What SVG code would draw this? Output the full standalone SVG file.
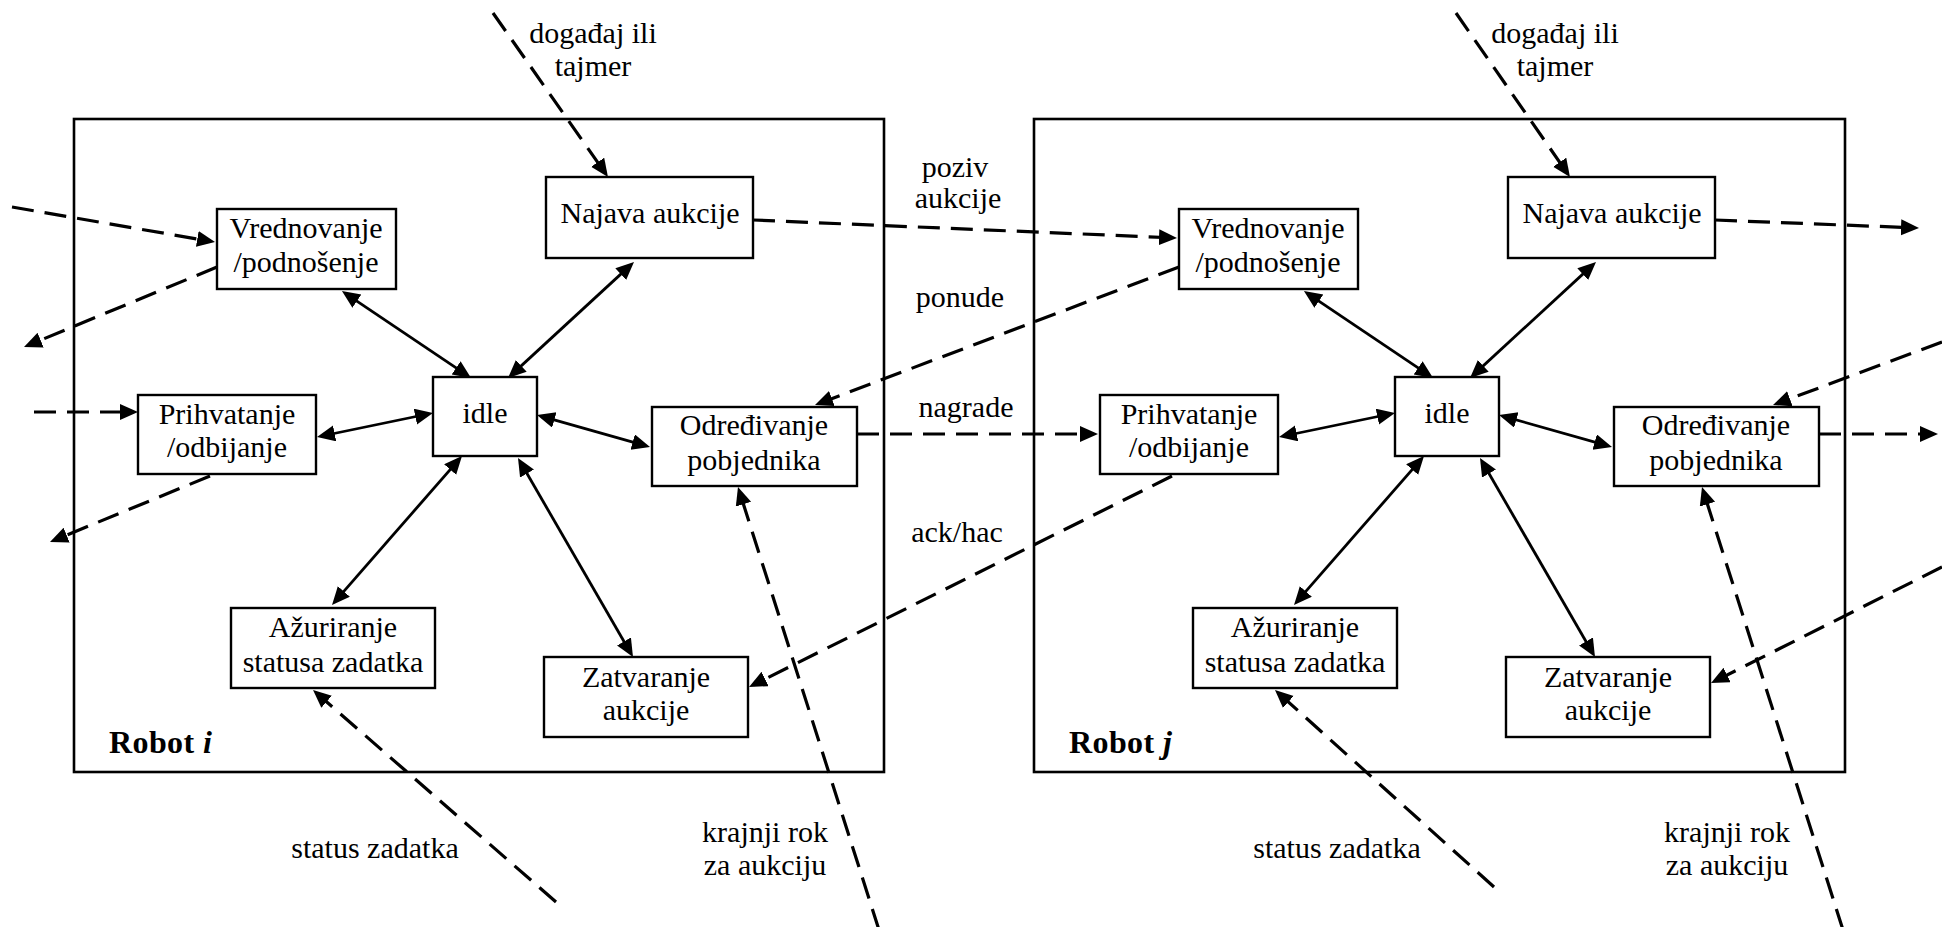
<svg xmlns="http://www.w3.org/2000/svg" width="1942" height="927" viewBox="0 0 1942 927">
  <defs>
    <style>
      text { font-family: "Liberation Serif", "Times New Roman", serif; font-size: 30px; fill: #000; }
      .c { text-anchor: middle; }
      .frame { fill: none; stroke: #000; stroke-width: 2.6; }
      .node rect { fill: #fff; stroke: #000; stroke-width: 2.4; }
      .solid { fill: none; stroke: #000; stroke-width: 2.8; marker-start: url(#head); marker-end: url(#head); }
      .dash { fill: none; stroke: #000; stroke-width: 3.2; stroke-dasharray: 22 11; marker-end: url(#head); }
      .robot { font-weight: bold; font-size: 32px; letter-spacing: 0.4px; }
    </style>
    <marker id="head" markerUnits="userSpaceOnUse" markerWidth="20" markerHeight="18" refX="13" refY="8" orient="auto-start-reverse" viewBox="0 0 20 18">
      <path d="M0,0 L18,8 L0,16 z" fill="#000" stroke="none"/>
    </marker>
  </defs>

  <rect width="1942" height="927" fill="#fff"/>

  <!-- robot frames -->
  <rect id="frame-i" class="frame" x="74" y="119" width="810" height="653"/>
  <rect id="frame-j" class="frame" x="1034" y="119" width="811" height="653"/>
  <text class="robot" x="109" y="753">Robot <tspan font-style="italic">i</tspan></text>
  <text class="robot" x="1069" y="753">Robot <tspan font-style="italic">j</tspan></text>

  <!-- connectors -->
  <g id="connectors">
    <!-- state transitions inside robot i -->
    <g id="transitions-i">
      <line class="solid" x1="346.1" y1="293.8" x2="466.9" y2="375.2"/>
      <line class="solid" x1="630.3" y1="265.4" x2="511.7" y2="374.6"/>
      <line class="solid" x1="321.9" y1="436" x2="428.1" y2="414"/>
      <line class="solid" x1="541.8" y1="416.4" x2="645.2" y2="445.6"/>
      <line class="solid" x1="458.7" y1="459.8" x2="335.3" y2="601.2"/>
      <line class="solid" x1="520.5" y1="462.3" x2="630.5" y2="652.7"/>
    </g>
    <!-- state transitions inside robot j -->
    <g id="transitions-j" transform="translate(962,0)">
      <line class="solid" x1="346.1" y1="293.8" x2="466.9" y2="375.2"/>
      <line class="solid" x1="630.3" y1="265.4" x2="511.7" y2="374.6"/>
      <line class="solid" x1="321.9" y1="436" x2="428.1" y2="414"/>
      <line class="solid" x1="541.8" y1="416.4" x2="645.2" y2="445.6"/>
      <line class="solid" x1="458.7" y1="459.8" x2="335.3" y2="601.2"/>
      <line class="solid" x1="520.5" y1="462.3" x2="630.5" y2="652.7"/>
    </g>
    <!-- messages and events -->
    <g id="messages">
      <line class="dash" x1="493" y1="13" x2="605.1" y2="172.9"/>
      <line class="dash" x1="1456" y1="13" x2="1567.1" y2="172.9"/>
      <line class="dash" x1="753" y1="220" x2="1172" y2="237.8"/>
      <line class="dash" x1="1715" y1="220" x2="1914" y2="227.8"/>
      <line class="dash" x1="12" y1="207" x2="210.1" y2="241.2"/>
      <line class="dash" x1="217" y1="267" x2="28.6" y2="345.1"/>
      <line class="dash" x1="1179" y1="267" x2="819.7" y2="403.2"/>
      <line class="dash" x1="1942" y1="342" x2="1777.7" y2="403.3"/>
      <line class="dash" x1="34" y1="412" x2="133" y2="412"/>
      <line class="dash" x1="210" y1="476" x2="54.6" y2="540.1"/>
      <line class="dash" x1="1172" y1="476" x2="753.5" y2="684.8"/>
      <line class="dash" x1="1942" y1="567" x2="1715.5" y2="680.8"/>
      <line class="dash" x1="857" y1="434" x2="1093" y2="434"/>
      <line class="dash" x1="1819" y1="434" x2="1933" y2="434"/>
      <line class="dash" x1="556" y1="902" x2="316.8" y2="693.3"/>
      <line class="dash" x1="1494" y1="887" x2="1278.7" y2="693.3"/>
      <line class="dash" x1="879" y1="930" x2="739.5" y2="491.8"/>
      <line class="dash" x1="1843" y1="930" x2="1703.5" y2="491.8"/>
    </g>
  </g>

  <!-- robot i states -->
  <g id="i-vrednovanje" class="node">
    <rect x="217" y="209" width="179" height="80"/>
    <text class="c" x="306" y="238">Vrednovanje</text>
    <text class="c" x="306" y="272">/podnošenje</text>
  </g>
  <g id="i-najava" class="node">
    <rect x="546" y="177" width="207" height="81"/>
    <text class="c" x="650" y="223">Najava aukcije</text>
  </g>
  <g id="i-idle" class="node">
    <rect x="433" y="377" width="104" height="79"/>
    <text class="c" x="485" y="423">idle</text>
  </g>
  <g id="i-prihvatanje" class="node">
    <rect x="138" y="395" width="178" height="79"/>
    <text class="c" x="227" y="424">Prihvatanje</text>
    <text class="c" x="227" y="457">/odbijanje</text>
  </g>
  <g id="i-odredivanje" class="node">
    <rect x="652" y="407" width="205" height="79"/>
    <text class="c" x="754" y="435">Određivanje</text>
    <text class="c" x="754" y="470">pobjednika</text>
  </g>
  <g id="i-azuriranje" class="node">
    <rect x="231" y="608" width="204" height="80"/>
    <text class="c" x="333" y="637">Ažuriranje</text>
    <text class="c" x="333" y="672">statusa zadatka</text>
  </g>
  <g id="i-zatvaranje" class="node">
    <rect x="544" y="657" width="204" height="80"/>
    <text class="c" x="646" y="687">Zatvaranje</text>
    <text class="c" x="646" y="720">aukcije</text>
  </g>

  <!-- robot j states -->
  <g id="j-vrednovanje" class="node" transform="translate(962,0)">
    <rect x="217" y="209" width="179" height="80"/>
    <text class="c" x="306" y="238">Vrednovanje</text>
    <text class="c" x="306" y="272">/podnošenje</text>
  </g>
  <g id="j-najava" class="node" transform="translate(962,0)">
    <rect x="546" y="177" width="207" height="81"/>
    <text class="c" x="650" y="223">Najava aukcije</text>
  </g>
  <g id="j-idle" class="node" transform="translate(962,0)">
    <rect x="433" y="377" width="104" height="79"/>
    <text class="c" x="485" y="423">idle</text>
  </g>
  <g id="j-prihvatanje" class="node" transform="translate(962,0)">
    <rect x="138" y="395" width="178" height="79"/>
    <text class="c" x="227" y="424">Prihvatanje</text>
    <text class="c" x="227" y="457">/odbijanje</text>
  </g>
  <g id="j-odredivanje" class="node" transform="translate(962,0)">
    <rect x="652" y="407" width="205" height="79"/>
    <text class="c" x="754" y="435">Određivanje</text>
    <text class="c" x="754" y="470">pobjednika</text>
  </g>
  <g id="j-azuriranje" class="node" transform="translate(962,0)">
    <rect x="231" y="608" width="204" height="80"/>
    <text class="c" x="333" y="637">Ažuriranje</text>
    <text class="c" x="333" y="672">statusa zadatka</text>
  </g>
  <g id="j-zatvaranje" class="node" transform="translate(962,0)">
    <rect x="544" y="657" width="204" height="80"/>
    <text class="c" x="646" y="687">Zatvaranje</text>
    <text class="c" x="646" y="720">aukcije</text>
  </g>

  <!-- message labels -->
  <g id="labels">
    <text class="c" x="593" y="43">događaj ili</text>
    <text class="c" x="593" y="76">tajmer</text>
    <text class="c" x="1555" y="43">događaj ili</text>
    <text class="c" x="1555" y="76">tajmer</text>
    <text class="c" x="955" y="177">poziv</text>
    <text class="c" x="958" y="208">aukcije</text>
    <text class="c" x="960" y="307">ponude</text>
    <text class="c" x="966" y="417">nagrade</text>
    <text class="c" x="957" y="542">ack/hac</text>
    <text class="c" x="375" y="858">status zadatka</text>
    <text class="c" x="1337" y="858">status zadatka</text>
    <text class="c" x="765" y="842">krajnji rok</text>
    <text class="c" x="765" y="875">za aukciju</text>
    <text class="c" x="1727" y="842">krajnji rok</text>
    <text class="c" x="1727" y="875">za aukciju</text>
  </g>
</svg>
